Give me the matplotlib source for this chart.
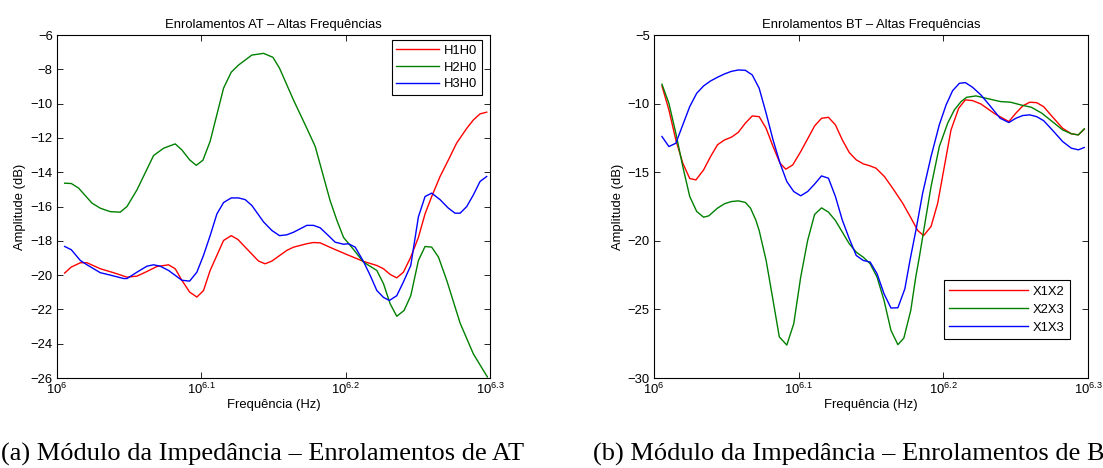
import numpy as np
import matplotlib.pyplot as plt

plt.rcParams['font.family'] = ['Liberation Sans', 'DejaVu Sans']
plt.rcParams['mathtext.fontset'] = 'custom'
plt.rcParams['mathtext.rm'] = 'Liberation Sans'
plt.rcParams['mathtext.it'] = 'Liberation Sans:italic'
plt.rcParams['mathtext.bf'] = 'Liberation Sans:bold'

# ---- AT windings (log10 of frequency, amplitude dB)
h1h0_logf = [6.0053, 6.0099, 6.0162, 6.0208, 6.0300, 6.0392, 6.0485, 6.0554, 6.0623, 6.0692,
             6.0773, 6.0819, 6.0865, 6.0919, 6.0969, 6.1015, 6.1061, 6.1154, 6.1207, 6.1253,
             6.1304, 6.1396, 6.1442, 6.1489, 6.1592, 6.1639, 6.1731, 6.1777, 6.1823, 6.1916,
             6.2008, 6.2123, 6.2216, 6.2262, 6.2308, 6.2354, 6.2400, 6.2451, 6.2504, 6.2550,
             6.2596, 6.2654, 6.2712, 6.2769, 6.2839, 6.2885, 6.2931, 6.2977]
h1h0_db = [-19.88, -19.53, -19.28, -19.28, -19.63, -19.86, -20.12, -20.06, -19.79, -19.5,
           -19.4, -19.63, -20.3, -20.99, -21.28, -20.9, -19.73, -17.98, -17.7, -17.92,
           -18.37, -19.18, -19.34, -19.18, -18.56, -18.37, -18.17, -18.1, -18.12, -18.47,
           -18.8, -19.2, -19.44, -19.63, -19.96, -20.16, -19.83, -18.95, -17.8, -16.43,
           -15.42, -14.25, -13.28, -12.3, -11.44, -10.95, -10.6, -10.5]

h2h0_logf = [6.0053, 6.0099, 6.0150, 6.0242, 6.0300, 6.0369, 6.0438, 6.0485, 6.0554, 6.0669,
             6.0739, 6.0819, 6.0865, 6.0919, 6.0965, 6.1011, 6.1061, 6.1154, 6.1207, 6.1258,
             6.1350, 6.1431, 6.1496, 6.1542, 6.1639, 6.1731, 6.1789, 6.1892, 6.1939, 6.1985,
             6.2054, 6.2123, 6.2216, 6.2262, 6.2308, 6.2354, 6.2405, 6.2451, 6.2504, 6.2550,
             6.2596, 6.2643, 6.2700, 6.2793, 6.2885, 6.2982]
h2h0_db = [-14.64, -14.66, -14.93, -15.8, -16.1, -16.3, -16.33, -16.0, -15.03, -13.03,
           -12.6, -12.35, -12.7, -13.28, -13.6, -13.3, -12.2, -9.1, -8.17, -7.75,
           -7.17, -7.07, -7.3, -7.94, -9.8, -11.44, -12.5, -15.65, -16.8, -17.8,
           -18.5, -19.24, -19.73, -20.5, -21.67, -22.4, -22.06, -21.2, -19.15, -18.33,
           -18.37, -18.95, -20.3, -22.8, -24.6, -25.94]

h3h0_logf = [6.0053, 6.0099, 6.0162, 6.0208, 6.0300, 6.0369, 6.0462, 6.0485, 6.0554, 6.0623,
             6.0669, 6.0715, 6.0773, 6.0865, 6.0919, 6.0969, 6.1015, 6.1061, 6.1108, 6.1154,
             6.1207, 6.1258, 6.1304, 6.1350, 6.1431, 6.1489, 6.1542, 6.1592, 6.1639, 6.1731,
             6.1777, 6.1823, 6.1881, 6.1927, 6.1985, 6.2019, 6.2066, 6.2123, 6.2169, 6.2216,
             6.2262, 6.2303, 6.2354, 6.2400, 6.2451, 6.2504, 6.2550, 6.2596, 6.2654, 6.2712,
             6.2758, 6.2793, 6.2839, 6.2885, 6.2931, 6.2977]
h3h0_db = [-18.33, -18.52, -19.15, -19.4, -19.86, -20.0, -20.2, -20.2, -19.83, -19.48,
           -19.4, -19.48, -19.73, -20.3, -20.35, -19.83, -18.85, -17.7, -16.43, -15.77,
           -15.5, -15.5, -15.6, -15.94, -16.9, -17.4, -17.7, -17.65, -17.5, -17.1,
           -17.1, -17.24, -17.7, -18.08, -18.2, -18.17, -18.37, -19.2, -20.0, -20.9,
           -21.3, -21.48, -21.2, -20.4, -19.44, -16.6, -15.42, -15.22, -15.6, -16.1,
           -16.39, -16.39, -16.0, -15.32, -14.54, -14.25]

# ---- BT windings
x1x2_logf = [6.0055, 6.0103, 6.0151, 6.0199, 6.0247, 6.0290, 6.0343, 6.0391, 6.0439, 6.0487,
             6.0535, 6.0583, 6.0631, 6.0679, 6.0727, 6.0775, 6.0823, 6.0871, 6.0911, 6.0959,
             6.1014, 6.1062, 6.1110, 6.1158, 6.1206, 6.1254, 6.1302, 6.1350, 6.1398, 6.1446,
             6.1494, 6.1535, 6.1593, 6.1650, 6.1719, 6.1777, 6.1823, 6.1864, 6.1915, 6.1961,
             6.2007, 6.2053, 6.2106, 6.2152, 6.2202, 6.2260, 6.2318, 6.2357, 6.2453, 6.2501,
             6.2549, 6.2597, 6.2645, 6.2693, 6.2753, 6.2825, 6.2885, 6.2933, 6.2974]
x1x2_db = [-8.71, -10.46, -12.65, -14.34, -15.46, -15.56, -14.83, -13.86, -13.0, -12.65,
           -12.45, -12.09, -11.43, -10.9, -10.95, -11.8, -13.13, -14.34, -14.78, -14.47,
           -13.5, -12.57, -11.63, -11.07, -11.0, -11.55, -12.65, -13.57, -14.1, -14.39,
           -14.54, -14.71, -15.32, -16.17, -17.26, -18.35, -19.25, -19.62, -18.96, -17.26,
           -14.59, -11.92, -10.34, -9.73, -9.78, -10.03, -10.46, -10.75, -11.31, -10.7,
           -10.17, -9.9, -9.93, -10.22, -10.95, -11.8, -12.2, -12.28, -11.87]

x2x3_logf = [6.0055, 6.0103, 6.0151, 6.0199, 6.0247, 6.0295, 6.0343, 6.0379, 6.0439, 6.0487,
             6.0535, 6.0583, 6.0631, 6.0667, 6.0703, 6.0727, 6.0775, 6.0823, 6.0866, 6.0918,
             6.0966, 6.1014, 6.1062, 6.1110, 6.1158, 6.1206, 6.1254, 6.1302, 6.1350, 6.1398,
             6.1446, 6.1494, 6.1542, 6.1590, 6.1638, 6.1686, 6.1727, 6.1775, 6.1810, 6.1834,
             6.1869, 6.1915, 6.1972, 6.2030, 6.2076, 6.2122, 6.2161, 6.2226, 6.2295, 6.2393,
             6.2465, 6.2537, 6.2609, 6.2681, 6.2753, 6.2825, 6.2885, 6.2933, 6.2974]
x2x3_db = [-8.59, -9.98, -12.16, -14.59, -16.77, -17.86, -18.28, -18.18, -17.62, -17.3,
           -17.14, -17.09, -17.2, -17.62, -18.47, -19.25, -21.43, -24.34, -27.0, -27.6,
           -26.04, -22.65, -19.98, -18.08, -17.6, -17.91, -18.52, -19.37, -20.22, -20.83,
           -21.19, -21.67, -22.65, -24.34, -26.53, -27.57, -27.09, -25.07, -22.6, -21.2,
           -18.96, -16.05, -13.14, -11.43, -10.46, -9.86, -9.54, -9.44, -9.61, -9.85,
           -9.9, -10.1, -10.27, -10.7, -11.31, -11.92, -12.2, -12.28, -11.84]

x1x3_logf = [6.0055, 6.0103, 6.0151, 6.0199, 6.0247, 6.0295, 6.0343, 6.0391, 6.0439, 6.0487,
             6.0535, 6.0583, 6.0631, 6.0679, 6.0727, 6.0775, 6.0823, 6.0871, 6.0918, 6.0966,
             6.1014, 6.1062, 6.1110, 6.1158, 6.1206, 6.1254, 6.1302, 6.1350, 6.1398, 6.1446,
             6.1494, 6.1542, 6.1590, 6.1638, 6.1686, 6.1734, 6.1770, 6.1811, 6.1857, 6.1915,
             6.1972, 6.2019, 6.2064, 6.2111, 6.2152, 6.2202, 6.2260, 6.2318, 6.2393, 6.2453,
             6.2501, 6.2549, 6.2597, 6.2645, 6.2693, 6.2753, 6.2825, 6.2885, 6.2933, 6.2974]
x1x3_db = [-12.4, -13.13, -12.89, -11.55, -10.22, -9.25, -8.71, -8.35, -8.08, -7.84,
           -7.65, -7.55, -7.57, -7.91, -8.88, -10.7, -12.65, -14.34, -15.68, -16.41,
           -16.72, -16.41, -15.87, -15.27, -15.44, -16.77, -18.5, -19.85, -21.07, -21.43,
           -21.55, -22.4, -23.86, -24.9, -24.88, -23.5, -21.39, -19.2, -16.53, -13.86,
           -11.55, -10.1, -9.06, -8.52, -8.47, -8.81, -9.37, -10.1, -11.07, -11.38,
           -11.07, -10.87, -10.82, -10.95, -11.24, -11.92, -12.77, -13.25, -13.37, -13.2]

tick_exp = [6, 6.1, 6.2, 6.3]
tick_labels = [r'$\mathregular{10^{6}}$', r'$\mathregular{10^{6.1}}$',
               r'$\mathregular{10^{6.2}}$', r'$\mathregular{10^{6.3}}$']

fs = 9.4


def style_axes(ax, yticks, ylim, title):
    ax.set_xscale('log')
    ax.set_xlim(10 ** 6, 10 ** 6.3)
    ax.set_xticks([10 ** e for e in tick_exp])
    ax.set_xticklabels(tick_labels, fontsize=fs)
    ax.minorticks_off()
    ax.set_ylim(*ylim)
    ax.set_yticks(yticks)
    ax.tick_params(direction='in', top=True, right=True, length=4, width=0.6,
                   labelsize=fs, pad=3)
    for s in ax.spines.values():
        s.set_linewidth(0.8)
    ax.set_title(title, fontsize=fs, pad=5)
    ax.set_xlabel('Frequência (Hz)', fontsize=fs, labelpad=1)
    ax.set_ylabel('Amplitude (dB)', fontsize=fs, labelpad=3)


fig = plt.figure(figsize=(11.03, 4.68), dpi=100)
W, H = 1103, 468

ax1 = fig.add_axes([57 / W, (H - 378) / H, 433 / W, 343 / H])
ax1.plot(10 ** np.array(h1h0_logf), h1h0_db, color='#ff0000', lw=1.0, label='H1H0')
ax1.plot(10 ** np.array(h2h0_logf), h2h0_db, color='#008000', lw=1.0, label='H2H0')
ax1.plot(10 ** np.array(h3h0_logf), h3h0_db, color='#0000ff', lw=1.0, label='H3H0')
style_axes(ax1, np.arange(-26, -5, 2), (-26, -6), 'Enrolamentos AT – Altas Frequências')
leg1 = ax1.legend(loc='upper right', bbox_to_anchor=(0.981, 0.985), fontsize=fs,
                  fancybox=False, framealpha=1, edgecolor='black', borderaxespad=0,
                  handlelength=3.3, handletextpad=0.35, labelspacing=0.35, borderpad=0.35)
leg1.get_frame().set_linewidth(0.8)

ax2 = fig.add_axes([654 / W, (H - 378) / H, 434 / W, 343 / H])
ax2.plot(10 ** np.array(x1x2_logf), x1x2_db, color='#ff0000', lw=1.0, label='X1X2')
ax2.plot(10 ** np.array(x2x3_logf), x2x3_db, color='#008000', lw=1.0, label='X2X3')
ax2.plot(10 ** np.array(x1x3_logf), x1x3_db, color='#0000ff', lw=1.0, label='X1X3')
style_axes(ax2, np.arange(-30, -4, 5), (-30, -5), 'Enrolamentos BT – Altas Frequências')
leg2 = ax2.legend(loc='lower right', bbox_to_anchor=(0.958, 0.114), fontsize=fs,
                  fancybox=False, framealpha=1, edgecolor='black', borderaxespad=0,
                  handlelength=6.0, handletextpad=0.4, labelspacing=0.45, borderpad=0.4)
leg2.get_frame().set_linewidth(0.8)

cap_font = ['Liberation Serif', 'DejaVu Serif']
fig.text(1 / W, 1 - 461 / H, '(a) Módulo da Impedância – Enrolamentos de AT',
         family=cap_font, fontsize=19, ha='left', va='baseline')
fig.text(593 / W, 1 - 461 / H, '(b) Módulo da Impedância – Enrolamentos de BT',
         family=cap_font, fontsize=19, ha='left', va='baseline')

fig.savefig('out.png', dpi=100)
